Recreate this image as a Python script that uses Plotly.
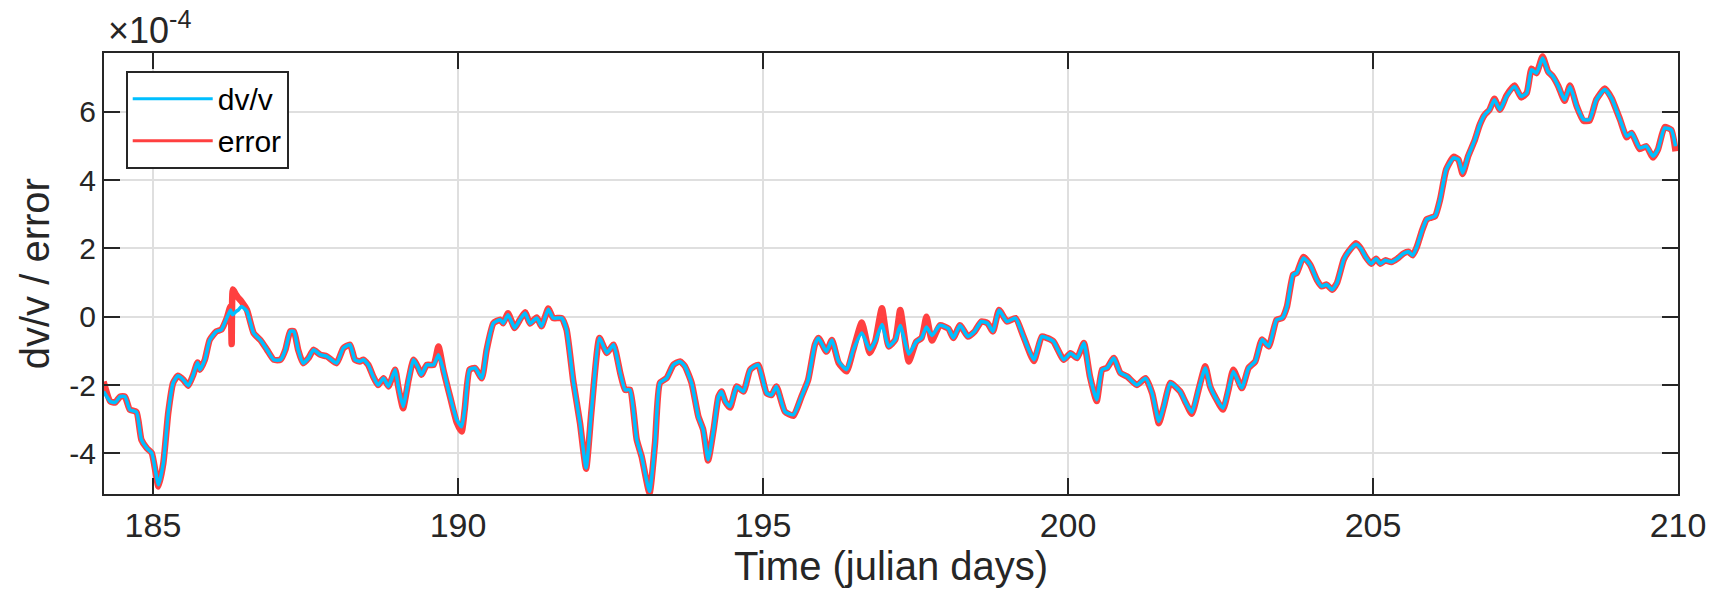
import plotly.graph_objects as go

days = [184.19, 184.30, 184.38, 184.46, 184.54, 184.62, 184.73, 184.81, 184.90, 184.98,
        185.09, 185.17, 185.25, 185.33, 185.41, 185.50, 185.58, 185.66, 185.73, 185.77,
        185.85, 185.93, 186.04, 186.12, 186.21, 186.27, 186.29, 186.31, 186.36, 186.40,
        186.45, 186.54, 186.65, 186.76, 186.87, 186.98, 187.09, 187.17, 187.25, 187.31,
        187.38, 187.46, 187.55, 187.63, 187.74, 187.85, 188.01, 188.12, 188.23, 188.31,
        188.39, 188.45, 188.53, 188.61, 188.69, 188.78, 188.86, 188.97, 189.02, 189.10,
        189.19, 189.27, 189.35, 189.40, 189.49, 189.60, 189.68, 189.76, 189.87, 189.98,
        190.06, 190.11, 190.19, 190.28, 190.39, 190.47, 190.58, 190.69, 190.74, 190.82,
        190.93, 191.01, 191.10, 191.18, 191.29, 191.37, 191.48, 191.56, 191.70, 191.78,
        191.89, 192.00, 192.10, 192.19, 192.32, 192.44, 192.55, 192.66, 192.74, 192.82,
        192.93, 193.01, 193.14, 193.23, 193.31, 193.42, 193.53, 193.64, 193.72, 193.83,
        193.94, 194.02, 194.10, 194.19, 194.27, 194.32, 194.38, 194.46, 194.57, 194.68,
        194.79, 194.92, 195.06, 195.14, 195.22, 195.36, 195.50, 195.63, 195.74, 195.85,
        195.91, 196.04, 196.13, 196.24, 196.37, 196.48, 196.62, 196.75, 196.84, 196.95,
        197.06, 197.17, 197.25, 197.39, 197.51, 197.60, 197.68, 197.77, 197.90, 198.04,
        198.12, 198.23, 198.36, 198.47, 198.58, 198.68, 198.77, 198.87, 199.00, 199.14,
        199.27, 199.44, 199.57, 199.65, 199.76, 199.93, 200.04, 200.15, 200.26, 200.36,
        200.47, 200.56, 200.64, 200.75, 200.86, 200.97, 201.13, 201.27, 201.38, 201.49,
        201.57, 201.68, 201.84, 201.92, 202.03, 202.14, 202.25, 202.33, 202.41, 202.54,
        202.63, 202.71, 202.85, 202.96, 203.07, 203.18, 203.29, 203.42, 203.51, 203.59,
        203.69, 203.75, 203.86, 203.97, 204.08, 204.16, 204.24, 204.33, 204.41, 204.52,
        204.60, 204.72, 204.80, 204.88, 204.97, 205.05, 205.12, 205.20, 205.30, 205.40,
        205.50, 205.58, 205.65, 205.72, 205.80, 205.88, 205.95, 206.02, 206.10, 206.20,
        206.32, 206.40, 206.47, 206.56, 206.67, 206.75, 206.83, 206.91, 206.99, 207.08,
        207.19, 207.32, 207.43, 207.52, 207.60, 207.68, 207.78, 207.87, 207.95, 208.04,
        208.14, 208.23, 208.34, 208.45, 208.55, 208.66, 208.80, 208.91, 209.05, 209.16,
        209.24, 209.37, 209.48, 209.59, 209.67, 209.78, 209.89, 209.96]

# dv/v values in units of 1e-4
dvv = [-2.19, -2.48, -2.51, -2.34, -2.34, -2.72, -2.79, -3.60, -3.85, -3.99,
       -4.92, -4.28, -2.82, -1.94, -1.73, -1.85, -2.02, -1.70, -1.34, -1.55,
       -1.26, -0.68, -0.43, -0.38, -0.04, 0.20, 0.10, 0.06, 0.15, 0.20,
       0.30, 0.16, -0.48, -0.68, -0.97, -1.26, -1.26, -0.97, -0.43, -0.43,
       -0.97, -1.36, -1.21, -0.97, -1.11, -1.16, -1.36, -0.92, -0.82, -1.26,
       -1.31, -1.26, -1.41, -1.75, -2.00, -1.80, -2.04, -1.55, -2.04, -2.63,
       -1.85, -1.26, -1.50, -1.70, -1.41, -1.41, -1.11, -1.55, -2.34, -3.02,
       -3.22, -2.72, -1.55, -1.50, -1.80, -0.97, -0.19, -0.09, -0.19, 0.06,
       -0.33, -0.10, 0.11, -0.20, -0.04, -0.28, 0.22, -0.04, -0.04, -0.38,
       -1.89, -3.11, -4.43, -2.72, -0.62, -1.06, -0.82, -1.65, -2.14, -2.14,
       -3.60, -4.09, -5.12, -3.70, -1.94, -1.80, -1.41, -1.31, -1.45, -1.94,
       -2.92, -3.31, -4.19, -3.31, -2.34, -2.19, -2.48, -2.63, -2.04, -2.19,
       -1.55, -1.41, -2.24, -2.29, -2.04, -2.78, -2.87, -2.34, -1.85, -0.82,
       -0.62, -1.02, -0.68, -1.31, -1.55, -0.97, -0.48, -0.97, -0.72, -0.23,
       -0.87, -0.67, -0.26, -1.09, -0.74, -0.62, -0.30, -0.55, -0.25, -0.35,
       -0.62, -0.25, -0.58, -0.43, -0.14, -0.19, -0.43, 0.20, -0.14, -0.04,
       -0.58, -1.26, -0.58, -0.62, -0.72, -1.26, -1.07, -1.21, -0.77, -1.75,
       -2.43, -1.55, -1.50, -1.21, -1.65, -1.75, -2.00, -1.80, -2.24, -3.07,
       -2.63, -1.94, -2.19, -2.48, -2.80, -2.14, -1.50, -2.04, -2.34, -2.68,
       -2.14, -1.60, -2.09, -1.50, -1.31, -0.67, -0.87, -0.09, -0.04, 0.30,
       1.23, 1.28, 1.72, 1.52, 1.08, 0.89, 0.94, 0.79, 0.99, 1.67,
       1.91, 2.12, 2.00, 1.75, 1.55, 1.70, 1.55, 1.65, 1.60, 1.70,
       1.85, 1.90, 1.80, 2.05, 2.50, 2.85, 2.90, 2.95, 3.43, 4.31,
       4.65, 4.60, 4.21, 4.70, 5.18, 5.62, 5.91, 6.06, 6.35, 6.06,
       6.45, 6.74, 6.45, 6.55, 7.23, 7.13, 7.57, 7.18, 7.03, 6.74,
       6.35, 6.74, 6.16, 5.77, 5.77, 6.35, 6.65, 6.40, 5.77, 5.28,
       5.38, 4.94, 4.99, 4.70, 4.89, 5.52, 5.47, 4.99]

# error curve values in units of 1e-4
err = [-1.90, -2.48, -2.51, -2.34, -2.34, -2.72, -2.79, -3.60, -3.85, -3.99,
       -4.97, -4.28, -2.82, -1.94, -1.73, -1.85, -2.02, -1.70, -1.34, -1.55,
       -1.26, -0.68, -0.43, -0.38, -0.04, 0.30, -0.80, 0.80, 0.65, 0.55,
       0.45, 0.20, -0.48, -0.68, -0.97, -1.26, -1.26, -0.97, -0.43, -0.43,
       -0.97, -1.36, -1.21, -0.97, -1.11, -1.16, -1.36, -0.92, -0.82, -1.26,
       -1.31, -1.26, -1.41, -1.75, -2.00, -1.80, -2.04, -1.55, -2.04, -2.68,
       -1.85, -1.26, -1.50, -1.70, -1.41, -1.41, -0.87, -1.55, -2.34, -3.10,
       -3.36, -2.72, -1.55, -1.50, -1.80, -0.97, -0.19, -0.09, -0.19, 0.10,
       -0.33, -0.10, 0.13, -0.20, -0.02, -0.28, 0.24, -0.04, -0.04, -0.38,
       -1.89, -3.11, -4.45, -2.72, -0.62, -1.06, -0.82, -1.65, -2.14, -2.14,
       -3.60, -4.09, -5.16, -3.70, -1.94, -1.80, -1.41, -1.31, -1.45, -1.94,
       -2.92, -3.31, -4.21, -3.31, -2.34, -2.19, -2.48, -2.66, -2.04, -2.19,
       -1.55, -1.41, -2.24, -2.29, -2.04, -2.78, -2.90, -2.34, -1.85, -0.82,
       -0.62, -1.02, -0.68, -1.35, -1.60, -0.97, -0.17, -1.06, -0.72, 0.25,
       -0.87, -0.67, 0.20, -1.31, -0.74, -0.62, 0.00, -0.70, -0.25, -0.35,
       -0.62, -0.25, -0.58, -0.43, -0.14, -0.19, -0.43, 0.20, -0.14, -0.04,
       -0.58, -1.30, -0.58, -0.62, -0.72, -1.26, -1.07, -1.21, -0.77, -1.75,
       -2.47, -1.55, -1.50, -1.21, -1.65, -1.75, -2.00, -1.80, -2.24, -3.12,
       -2.63, -1.94, -2.19, -2.48, -2.84, -2.14, -1.45, -2.04, -2.34, -2.72,
       -2.14, -1.55, -2.09, -1.50, -1.31, -0.67, -0.87, -0.09, -0.04, 0.30,
       1.23, 1.28, 1.75, 1.52, 1.08, 0.89, 0.94, 0.79, 0.99, 1.67,
       1.91, 2.15, 2.00, 1.75, 1.55, 1.70, 1.55, 1.65, 1.60, 1.70,
       1.85, 1.90, 1.80, 2.05, 2.50, 2.85, 2.90, 2.95, 3.43, 4.31,
       4.68, 4.60, 4.18, 4.70, 5.18, 5.62, 5.91, 6.06, 6.38, 6.06,
       6.48, 6.77, 6.42, 6.55, 7.26, 7.13, 7.62, 7.18, 7.03, 6.74,
       6.32, 6.77, 6.16, 5.74, 5.74, 6.35, 6.68, 6.40, 5.77, 5.25,
       5.38, 4.91, 4.99, 4.66, 4.89, 5.55, 5.47, 4.84]

x_ticks = [185, 190, 195, 200, 205, 210]
y_ticks = [-4, -2, 0, 2, 4, 6]
y_tick_labels = ["-4", "-2", "0", "2", "4", "6"]

CYAN = "rgb(0,191,255)"
RED = "rgb(255,64,64)"
INK = "rgb(38,38,38)"
GRID = "rgb(223,223,223)"
FONT = "Liberation Sans, Arial, Helvetica, sans-serif"

fig = go.Figure()
fig.add_trace(go.Scatter(x=days, y=err, mode="lines", name="error",
                         line=dict(color=RED, width=6.5, shape="spline", smoothing=0.5),
                         showlegend=False, hoverinfo="skip"))
fig.add_trace(go.Scatter(x=days, y=dvv, mode="lines", name="dv/v",
                         line=dict(color=CYAN, width=3.5, shape="spline", smoothing=0.5),
                         showlegend=False, hoverinfo="skip"))
# legend entries
fig.add_trace(go.Scatter(x=[None], y=[None], mode="lines", name="dv/v",
                         line=dict(color=CYAN, width=3)))
fig.add_trace(go.Scatter(x=[None], y=[None], mode="lines", name="error",
                         line=dict(color=RED, width=3)))

axis_common = dict(showline=True, linecolor=INK, linewidth=2, mirror="ticks",
                   ticks="inside", ticklen=16, tickwidth=2, tickcolor=INK,
                   showgrid=True, gridcolor=GRID, gridwidth=1.5, zeroline=False)

fig.update_xaxes(range=[184.197, 210], tickvals=x_ticks,
                 tickfont=dict(family=FONT, size=34, color=INK), **axis_common)
fig.update_yaxes(range=[-5.19, 7.72], tickvals=y_ticks, ticktext=y_tick_labels,
                 tickfont=dict(family=FONT, size=30, color=INK), **axis_common)

fig.update_layout(
    width=1721, height=589,
    margin=dict(l=104, r=43, t=53, b=95),
    paper_bgcolor="white", plot_bgcolor="white",
    font=dict(family=FONT, color=INK),
    showlegend=True,
    hovermode=False,
    legend=dict(x=0.0138, y=0.96, xanchor="left", yanchor="top",
                bgcolor="white", bordercolor=INK, borderwidth=2,
                font=dict(family=FONT, size=30, color="black"),
                itemwidth=80, tracegroupgap=0, entrywidth=175, entrywidthmode="pixels"),
    annotations=[
        dict(text="Time (julian days)", xref="paper", yref="paper", x=0.5, y=-0.163,
             xanchor="center", yanchor="middle", showarrow=False,
             font=dict(family=FONT, size=40, color=INK)),
        dict(text="dv/v / error", xref="paper", yref="paper", x=-0.044, y=0.5,
             xanchor="center", yanchor="middle", textangle=-90, showarrow=False,
             font=dict(family=FONT, size=40, color=INK)),
        dict(text="\u00d710<sup>-4</sup>", xref="paper", yref="paper", x=0.001, y=1.0,
             xanchor="left", yanchor="bottom", showarrow=False,
             font=dict(family=FONT, size=36, color=INK)),
    ],
)

fig.write_html("out.html", config={"displayModeBar": False},
               post_script="document.body.style.margin='0px';document.body.style.overflow='hidden';")
